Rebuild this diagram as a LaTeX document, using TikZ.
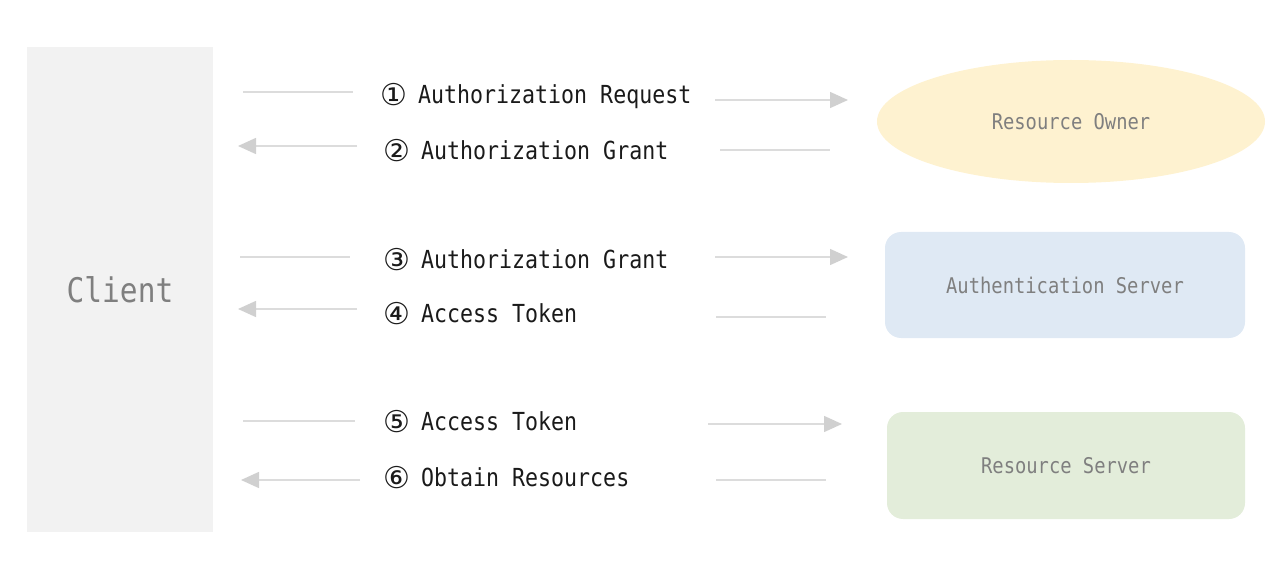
\documentclass[tikz,border=0pt]{standalone}
\usepackage{fontspec}
\setmonofont{DejaVu Sans Mono}
\newfontfamily\circfont{DejaVu Sans}
\usetikzlibrary{shapes.geometric,arrows.meta}
\definecolor{clientfill}{HTML}{F2F2F2}
\definecolor{ownerfill}{HTML}{FEF2D0}
\definecolor{authfill}{HTML}{DFE9F4}
\definecolor{resfill}{HTML}{E3EDDA}
\definecolor{linegray}{HTML}{DCDCDC}
\definecolor{headgray}{HTML}{D0D0D0}
\definecolor{boxtext}{HTML}{7F7F7F}
\definecolor{labeltext}{HTML}{1A1A1A}
\newcommand{\stepnum}[1]{\makebox[26pt][l]{\raisebox{-2pt}{\circfont\fontsize{30pt}{30pt}\selectfont #1}}\hspace{12pt}}
\newcommand{\tall}[1]{\scalebox{1}[1.15]{#1}}
\tikzset{
  actor/.style={inner sep=0pt, font=\ttfamily\fontsize{18.8pt}{20pt}\selectfont, text=boxtext},
  msg/.style={anchor=west, inner sep=0pt, font=\ttfamily\fontsize{21.6pt}{24pt}\selectfont, text=labeltext},
  flow/.style={draw=linegray, line width=1.5pt},
  flowtip/.style={flow, -{Triangle[length=18pt,width=16pt,color=headgray]}}
}
\begin{document}
\begin{tikzpicture}[x=1pt,y=-1pt]
\path[use as bounding box] (0,0) rectangle (1286,580);
% actors
\node[actor, fill=clientfill, minimum width=186pt, minimum height=485pt,
      font=\ttfamily\fontsize{29.5pt}{32pt}\selectfont] (client) at (120,289.5) {\tall{Client}};
\node[actor, ellipse, fill=ownerfill, minimum width=388pt, minimum height=123pt] (owner) at (1071,121.5) {\tall{Resource Owner}};
\node[actor, fill=authfill, rounded corners=16pt, minimum width=360pt, minimum height=106pt] (auth) at (1065,285) {\tall{Authentication Server}};
\node[actor, fill=resfill, rounded corners=16pt, minimum width=358pt, minimum height=107pt] (res) at (1066,465.5) {\tall{Resource Server}};
% labels
\node[msg] (m1) at (380,96) {\stepnum{①}\tall{Authorization Request}};
\node[msg] (m2) at (383,151) {\stepnum{②}\tall{Authorization Grant}};
\node[msg] (m3) at (383,260) {\stepnum{③}\tall{Authorization Grant}};
\node[msg] (m4) at (383,314) {\stepnum{④}\tall{Access Token}};
\node[msg] (m5) at (383,422) {\stepnum{⑤}\tall{Access Token}};
\node[msg] (m6) at (383,478) {\stepnum{⑥}\tall{Obtain Resources}};
% line end points
\coordinate (a1) at (243,92);  \coordinate (b1) at (353,92);
\coordinate (c1) at (715,100); \coordinate (d1) at (848,100);
\coordinate (a2) at (238,146); \coordinate (b2) at (357,146);
\coordinate (c2) at (720,150); \coordinate (d2) at (830,150);
\coordinate (a3) at (240,257); \coordinate (b3) at (350,257);
\coordinate (c3) at (715,257); \coordinate (d3) at (848,257);
\coordinate (a4) at (238,309); \coordinate (b4) at (357,309);
\coordinate (c4) at (716,317); \coordinate (d4) at (826,317);
\coordinate (a5) at (243,421); \coordinate (b5) at (355,421);
\coordinate (c5) at (708,424); \coordinate (d5) at (842,424);
\coordinate (a6) at (241,480); \coordinate (b6) at (360,480);
\coordinate (c6) at (716,480); \coordinate (d6) at (826,480);
% connectors
\draw[flow] (a1) -- (b1);  \draw[flowtip] (c1) -- (d1);
\draw[flowtip] (b2) -- (a2); \draw[flow] (c2) -- (d2);
\draw[flow] (a3) -- (b3);  \draw[flowtip] (c3) -- (d3);
\draw[flowtip] (b4) -- (a4); \draw[flow] (c4) -- (d4);
\draw[flow] (a5) -- (b5);  \draw[flowtip] (c5) -- (d5);
\draw[flowtip] (b6) -- (a6); \draw[flow] (c6) -- (d6);
\end{tikzpicture}
\end{document}
